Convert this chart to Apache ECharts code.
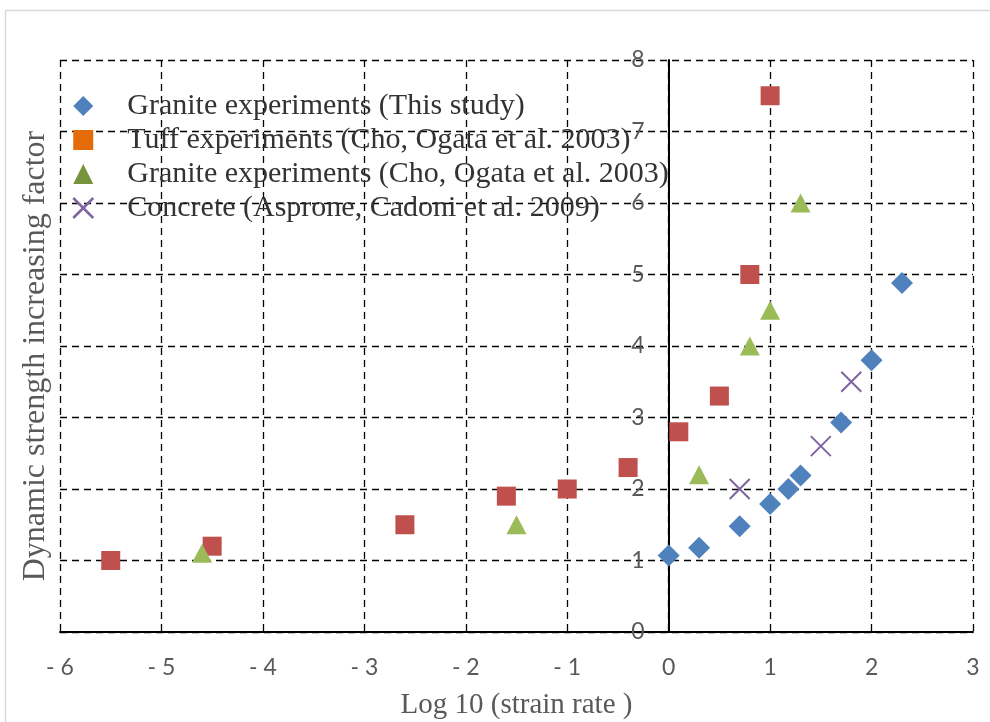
<!DOCTYPE html>
<html>
<head>
<meta charset="utf-8">
<script src="https://cdn.jsdelivr.net/npm/echarts@6/dist/echarts.min.js"></script>
<style>
  html, body { margin: 0; padding: 0; background: #fff; }
  #chart { width: 990px; height: 722px; }
</style>
</head>
<body>
<div id="chart"></div>
<script>
// Axis ranges (log10 strain rate vs. dynamic increase factor)
const xMin = -6, xMax = 3, xStep = 1;
const yMin = 0, yMax = 8, yStep = 1;

// Series names
const seriesNames = [
  'Granite experiments (This study)',
  'Tuff experiments (Cho, Ogata et al. 2003)',
  'Granite experiments (Cho, Ogata et al. 2003)',
  'Concrete (Asprone, Cadoni et al. 2009)'
];

// Granite experiments (this study)
const graniteX = [0, 0.3, 0.7, 1.0, 1.18, 1.3, 1.7, 2.0, 2.3];
const graniteY = [1.07, 1.18, 1.48, 1.79, 2.0, 2.19, 2.93, 3.8, 4.88];

// Tuff experiments (Cho, Ogata et al. 2003)
const tuffX = [-5.5, -4.5, -2.6, -1.6, -1.0, -0.4, 0.1, 0.5, 0.8, 1.0];
const tuffY = [1.0, 1.2, 1.5, 1.9, 2.0, 2.3, 2.8, 3.3, 5.0, 7.5];

// Granite experiments (Cho, Ogata et al. 2003)
const choGraniteX = [-4.6, -1.5, 0.3, 0.8, 1.0, 1.3];
const choGraniteY = [1.1, 1.5, 2.2, 4.0, 4.5, 6.0];

// Concrete (Asprone, Cadoni et al. 2009)
const concreteX = [0.7, 1.5, 1.8];
const concreteY = [2.0, 2.6, 3.5];

const pairs = (xs, ys) => xs.map((x, i) => [x, ys[i]]);

// Plot area box
const gridLeft = 60, gridRight = 17, gridTop = 60, gridBottom = 90;
const plotWidth = 990 - gridLeft - gridRight;
// The vertical axis sits on x = 0, so shift it in from the left edge
const yAxisShift = plotWidth * (0 - xMin) / (xMax - xMin);

const crossPath = 'path://M0,0L10,10M10,0L0,10';
const gridLine = { show: true, lineStyle: { color: '#000', width: 1.3, type: [7, 5] } };
const tickFont = { color: '#595959', fontFamily: 'Lato', fontSize: 23 };

const chart = echarts.init(document.getElementById('chart'), null, { renderer: 'canvas' });

chart.setOption({
  backgroundColor: '#fff',
  animation: false,
  grid: {
    left: gridLeft, right: gridRight, top: gridTop, bottom: gridBottom,
    containLabel: false, outerBoundsMode: 'none'
  },
  xAxis: {
    type: 'value',
    min: xMin, max: xMax, interval: xStep,
    axisLine: { show: true, onZero: false, lineStyle: { color: '#000', width: 2 } },
    axisTick: { show: false },
    splitLine: gridLine,
    axisLabel: Object.assign({
      margin: 24,
      formatter: v => (v < 0 ? '- ' + Math.abs(v) : String(v))
    }, tickFont),
    name: 'Log 10 (strain rate )',
    nameLocation: 'middle',
    nameGap: 59,
    nameTextStyle: { color: '#595959', fontFamily: 'Liberation Serif', fontSize: 29 }
  },
  yAxis: {
    type: 'value',
    position: 'left',
    offset: -yAxisShift,
    min: yMin, max: yMax, interval: yStep,
    axisLine: { show: true, onZero: false, lineStyle: { color: '#000', width: 2 } },
    axisTick: { show: false },
    splitLine: gridLine,
    axisLabel: Object.assign({ margin: 24 }, tickFont)
  },
  legend: {
    orient: 'vertical',
    left: 67, top: 86,
    itemWidth: 20, itemHeight: 20,
    itemGap: 4,
    textStyle: {
      color: '#333', fontFamily: 'Liberation Serif', fontSize: 30,
      lineHeight: 30, padding: [0, 0, 0, 29]
    },
    data: [
      { name: seriesNames[0], icon: 'diamond', itemStyle: { color: '#4F81BD' } },
      { name: seriesNames[1], icon: 'rect', itemStyle: { color: '#E36C09' } },
      { name: seriesNames[2], icon: 'triangle', itemStyle: { color: '#77933C' } },
      { name: seriesNames[3], icon: crossPath,
        itemStyle: { color: 'transparent', borderColor: '#8064A2', borderWidth: 2.5 } }
    ]
  },
  graphic: [
    {
      type: 'rect', silent: true, z: -1,
      shape: { x: 5.5, y: 10.5, width: 1000, height: 1000 },
      style: { fill: 'none', stroke: '#D9D9D9', lineWidth: 1.5 }
    },
    {
      type: 'text', silent: true,
      x: 36, y: 356, rotation: Math.PI / 2,
      style: {
        text: 'Dynamic strength increasing factor',
        fill: '#595959', font: '32px "Liberation Serif"',
        align: 'center', verticalAlign: 'middle'
      }
    }
  ],
  series: [
    {
      name: seriesNames[0], type: 'scatter', symbol: 'diamond', symbolSize: [22, 22],
      itemStyle: { color: '#4F81BD', opacity: 1 },
      data: pairs(graniteX, graniteY)
    },
    {
      name: seriesNames[1], type: 'scatter', symbol: 'rect', symbolSize: [19, 19],
      itemStyle: { color: '#C0504D', opacity: 1 },
      data: pairs(tuffX, tuffY)
    },
    {
      name: seriesNames[2], type: 'scatter', symbol: 'triangle', symbolSize: [20, 19],
      itemStyle: { color: '#9BBB59', opacity: 1 },
      data: pairs(choGraniteX, choGraniteY)
    },
    {
      name: seriesNames[3], type: 'scatter', symbol: crossPath, symbolSize: [20, 20],
      itemStyle: { color: 'transparent', borderColor: '#8064A2', borderWidth: 2, opacity: 1 },
      data: pairs(concreteX, concreteY)
    }
  ]
});
</script>
</body>
</html>
